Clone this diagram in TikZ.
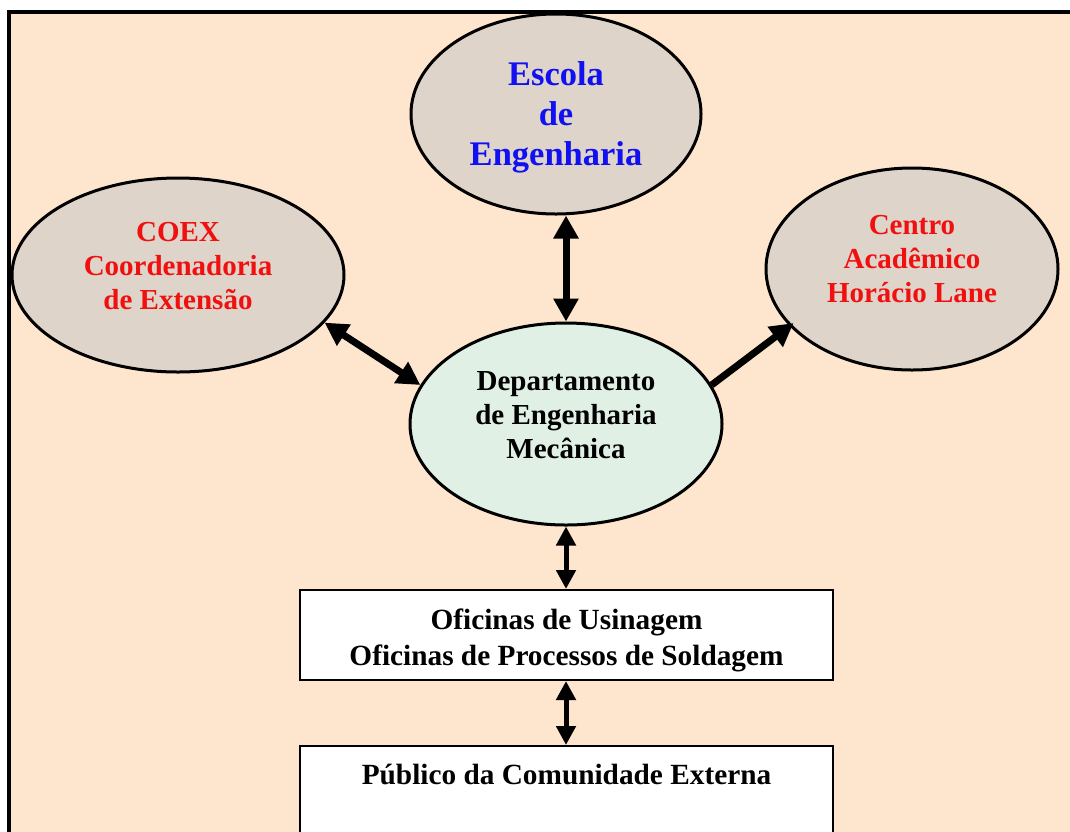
\documentclass[tikz,border=0pt]{standalone}
\usepackage{fontspec}
\setmainfont{Liberation Serif}
\usetikzlibrary{shapes.geometric,arrows.meta}
\definecolor{bgpeach}{HTML}{FEE5CD}
\definecolor{ellgray}{HTML}{DED4C9}
\definecolor{deptgreen}{HTML}{E0F0E5}
\definecolor{txtblue}{HTML}{1010F0}
\definecolor{txtred}{HTML}{F01010}
\tikzset{
  oval/.style={ellipse, draw=black, line width=3pt, fill=ellgray, inner sep=0pt},
  ovaltext/.style={inner sep=0pt, align=center, font=\bfseries\fontsize{29}{34}\selectfont},
  boxnode/.style={rectangle, draw=black, line width=2pt, fill=white, inner sep=0pt},
  boxtext/.style={inner sep=0pt, align=center, font=\bfseries\fontsize{29.3}{36}\selectfont},
  bigarrow/.style={line width=7pt, {Triangle[length=23pt,width=24pt]}-{Triangle[length=23pt,width=24pt]}},
  onearrow/.style={line width=7pt, -{Triangle[length=23pt,width=24pt]}},
  smallarrow/.style={line width=5pt, {Triangle[length=19pt,width=19pt]}-{Triangle[length=19pt,width=19pt]}}
}
\begin{document}
\begin{tikzpicture}[x=1pt,y=-1pt]
\useasboundingbox (0,0) rectangle (1070,831);
\draw[line width=4pt, fill=bgpeach] (9.2,12.2) rectangle (1100,860);
% ellipses
\node[oval, minimum width=290pt, minimum height=200pt] (Escola) at (556,114) {};
\node[ovaltext, text=txtblue, font=\bfseries\fontsize{34.5}{40}\selectfont] (EscolaText) at (556,117) {Escola\\de\\Engenharia};
\node[oval, minimum width=332pt, minimum height=194pt] (COEX) at (178,275) {};
\node[ovaltext, text=txtred] (COEXText) at (178,266) {COEX\\Coordenadoria\\de Extensão};
\node[oval, minimum width=292pt, minimum height=202pt] (Centro) at (912,269) {};
\node[ovaltext, text=txtred] (CentroText) at (912,259) {Centro\\Acadêmico\\Horácio Lane};
\node[oval, minimum width=312pt, minimum height=202pt, fill=deptgreen] (Dept) at (566,424) {};
\node[ovaltext] (DeptText) at (566,415) {Departamento\\de Engenharia\\Mecânica};
% boxes
\node[boxnode, minimum width=533pt, minimum height=90pt] (Ofic) at (566.5,635) {};
\node[boxtext] (OficText) at (566.5,640) {Oficinas de Usinagem\\ Oficinas de Processos de Soldagem};
\node[boxnode, minimum width=533pt, minimum height=160pt, anchor=north] (Pub) at (566.5,745) {};
\node[boxtext, anchor=base] (PubText) at (566.5,784) {Público da Comunidade Externa};
% connectors
\draw[bigarrow] (Escola.south -| Dept.north) -- (Dept.north);
\draw[bigarrow] (COEX.-18) -- (Dept.165);
\draw[onearrow, shorten >=-5pt] (Dept.15) -- (Centro.-155);
\draw[smallarrow] (Dept.south) -- (Ofic.north -| Dept.south);
\draw[smallarrow] (Ofic.south -| Dept.south) -- (Pub.north -| Dept.south);
\end{tikzpicture}
\end{document}
